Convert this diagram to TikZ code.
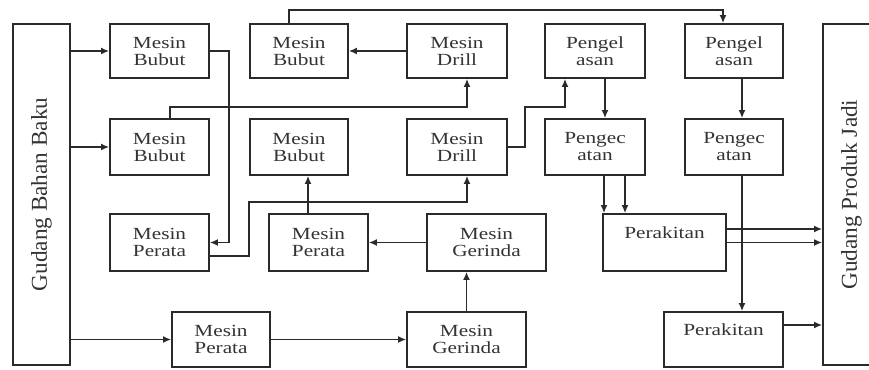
\documentclass[tikz,border=0pt]{standalone}
\usepackage{fontspec}
\usepackage{graphicx}
\setmainfont{Liberation Serif}
\newfontfamily\boxfont{Liberation Serif}[FakeStretch=1.25]
\usetikzlibrary{arrows.meta,calc}
\definecolor{ln}{HTML}{2A2A2A}
\begin{document}
\begin{tikzpicture}[x=1pt,y=-1pt,
  box/.style={draw=ln, line width=1.9pt, inner sep=0pt, align=center,
    font=\boxfont\fontsize{17}{17}\selectfont, text=black!80},
  raised/.style={text depth=20pt},
  arr/.style={draw=ln, line width=1.4pt, -{Latex[length=8pt,width=7pt]}}]
\useasboundingbox (0,0) rectangle (869,369);
\clip (0,0) rectangle (869,369);
% warehouses
\node[box, minimum width=57pt, minimum height=341pt] (gbb) at (41.5,194.5)
  {\rotatebox{90}{\scalebox{1}[1.22]{\fontsize{18.6}{20}\selectfont Gudang Bahan Baku}}};
\node[box, minimum width=57pt, minimum height=341pt] (gpj) at (851.5,194.5)
  {\rotatebox{90}{\scalebox{1}[1.22]{\fontsize{18.6}{20}\selectfont Gudang Produk Jadi}}};
% row 1
\node[box, minimum width=99pt, minimum height=54pt] (bubA) at (159.5,51) {Mesin\\Bubut};
\node[box, minimum width=98pt, minimum height=54pt] (bubB) at (299,51) {Mesin\\Bubut};
\node[box, minimum width=100pt, minimum height=54pt] (drillA) at (457,51) {Mesin\\Drill};
\node[box, minimum width=100pt, minimum height=54pt] (las1) at (595,51) {Pengel\\asan};
\node[box, minimum width=98pt, minimum height=54pt] (las2) at (734,51) {Pengel\\asan};
% row 2
\node[box, minimum width=99pt, minimum height=56pt] (bubC) at (159.5,147) {Mesin\\Bubut};
\node[box, minimum width=98pt, minimum height=56pt] (bubD) at (299,147) {Mesin\\Bubut};
\node[box, minimum width=100pt, minimum height=56pt] (drillB) at (457,147) {Mesin\\Drill};
\node[box, minimum width=100pt, minimum height=56pt] (cat1) at (595,147) {Pengec\\atan};
\node[box, minimum width=98pt, minimum height=56pt] (cat2) at (734,147) {Pengec\\atan};
% row 3
\node[box, minimum width=99pt, minimum height=57pt] (perA) at (159.5,242.5) {Mesin\\Perata};
\node[box, minimum width=99pt, minimum height=57pt] (perB) at (318.5,242.5) {Mesin\\Perata};
\node[box, minimum width=119pt, minimum height=57pt] (gerA) at (486.5,242.5) {Mesin\\Gerinda};
\node[box, raised, minimum width=123pt, minimum height=57pt] (rak1) at (664.5,242.5) {Perakitan};
% row 4
\node[box, minimum width=98pt, minimum height=55pt] (perC) at (221,339.5) {Mesin\\Perata};
\node[box, minimum width=119pt, minimum height=55pt] (gerB) at (466.5,339.5) {Mesin\\Gerinda};
\node[box, raised, minimum width=119pt, minimum height=55pt] (rak2) at (723.5,339.5) {Perakitan};
% connectors
\draw[arr] (gbb.east |- bubA) -- (bubA.west);
\draw[arr] (gbb.east |- bubC) -- (bubC.west);
\draw[arr] (gbb.east |- perC) -- (perC.west);
\draw[arr] (bubA.east) -| ($(perA.east)+(19,0)$) -- (perA.east);
\draw[arr] ($(perA.east)+(0,13.5)$) -| (249,202) -| ($(drillB.south)+(10,0)$);
\draw[arr] ($(perB.north)+(-10.5,0)$) -- ($(bubD.south)+(9,0)$);
\draw[arr] ($(bubC.north)+(10.5,0)$) |- (300,107) -| ($(drillA.south)+(10,0)$);
\draw[arr] (drillA.west) -- (bubB.east);
\draw[arr] ($(bubB.north)+(-10,0)$) |- (600,10) -| ($(las2.north)+(-11,0)$);
\draw[arr] (drillB.east) -| (525,107) -| ($(las1.south)+(-30,0)$);
\draw[arr] ($(las1.south)+(10,0)$) -- ($(cat1.north)+(10,0)$);
\draw[arr] ($(las2.south)+(8,0)$) -- ($(cat2.north)+(8,0)$);
\coordinate (t1) at ($(cat1.south)+(9,0)$);
\coordinate (t2) at ($(cat1.south)+(30,0)$);
\coordinate (t3) at ($(cat2.south)+(8,0)$);
\draw[arr] (t1) -- (t1 |- rak1.north);
\draw[arr] (t2) -- (t2 |- rak1.north);
\draw[arr] (t3) -- (t3 |- rak2.north);
\coordinate (r1) at ($(rak1.east)+(0,-13.5)$);
\coordinate (r2) at ($(rak2.east)+(0,-14.5)$);
\draw[arr] (r1) -- (r1 -| gpj.west);
\draw[arr] (rak1.east) -- (rak1.east -| gpj.west);
\draw[arr] (r2) -- (r2 -| gpj.west);
\draw[arr] (gerA.west) -- (perB.east);
\draw[arr] (gerB.north) -- (gerB.north |- gerA.south);
\draw[arr] (perC.east) -- (gerB.west);
\end{tikzpicture}
\end{document}
